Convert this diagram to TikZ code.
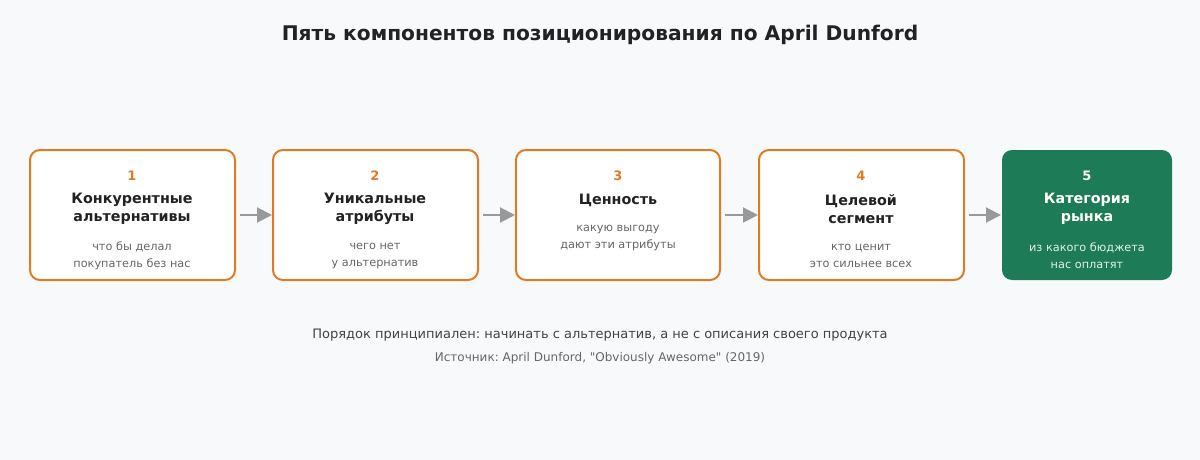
\documentclass[tikz,border=0pt]{standalone}
\usepackage{fontspec}
\setmainfont[Ligatures=TeXOff]{DejaVu Sans}
\usetikzlibrary{arrows.meta}
\frenchspacing
\definecolor{bg}{HTML}{F8F9FB}
\definecolor{orng}{HTML}{E07B24}
\definecolor{grn}{HTML}{1E7B58}
\definecolor{ink}{HTML}{222222}
\definecolor{sub}{HTML}{666666}
\definecolor{arr}{HTML}{999999}
\tikzset{
  card/.style={draw=orng, line width=2pt, fill=white, rounded corners=10pt},
  gcard/.style={fill=grn, rounded corners=10pt},
  num/.style={font=\bfseries\fontsize{13}{15}\selectfont, text=orng},
  head/.style={font=\bfseries\fontsize{14.3}{18}\selectfont, text=ink, align=center},
  note/.style={font=\fontsize{11.3}{17}\selectfont, text=sub, align=center},
  link/.style={draw=arr, line width=2pt, -{Triangle[length=15pt,width=15pt]}},
}
\begin{document}
\begin{tikzpicture}[x=1pt,y=-1pt]
\fill[bg] (0,0) rectangle (1200,460);
\useasboundingbox (0,0) rectangle (1200,460);
\node[font=\bfseries\fontsize{20.2}{24}\selectfont, text=ink] (title) at (600,35) {Пять компонентов позиционирования по April Dunford};

\path[card] (30,150) rectangle (235,280);
\coordinate (b1w) at (30,215); \coordinate (b1e) at (235,215);
\path[card] (273,150) rectangle (478,280);
\coordinate (b2w) at (273,215); \coordinate (b2e) at (478,215);
\path[card] (516,150) rectangle (720,280);
\coordinate (b3w) at (516,215); \coordinate (b3e) at (720,215);
\path[card] (759,150) rectangle (964,280);
\coordinate (b4w) at (759,215); \coordinate (b4e) at (964,215);
\path[gcard] (1002,150) rectangle (1172,280);
\coordinate (b5w) at (1002,215);

\node[num] (n1) at (132,176) {1};
\node[head] (h1) at (132,209) {Конкурентные\\альтернативы};
\node[note] (s1) at (132,256) {что бы делал\\покупатель без нас};

\node[num] (n2) at (375,176) {2};
\node[head] (h2) at (375,209) {Уникальные\\атрибуты};
\node[note] (s2) at (375,256) {чего нет\\у альтернатив};

\node[num] (n3) at (618,176) {3};
\node[head] (h3) at (618,200) {Ценность};
\node[note] (s3) at (618,238) {какую выгоду\\дают эти атрибуты};

\node[num] (n4) at (861,176) {4};
\node[head] (h4) at (861,209) {Целевой\\сегмент};
\node[note] (s4) at (861,256) {кто ценит\\это сильнее всех};

\node[num, text=white] (n5) at (1087,176) {5};
\node[head, text=white] (h5) at (1087,209) {Категория\\рынка};
\node[note, text=white!88!grn] (s5) at (1087,256) {из какого бюджета\\нас оплатят};

\draw[link] ([xshift=5pt]b1e) -- ([xshift=-1pt]b2w);
\draw[link] ([xshift=5pt]b2e) -- ([xshift=-1pt]b3w);
\draw[link] ([xshift=5pt]b3e) -- ([xshift=-1pt]b4w);
\draw[link] ([xshift=5pt]b4e) -- ([xshift=-1pt]b5w);

\node[font=\fontsize{13}{15}\selectfont, text=ink!85] (foot) at (600,335) {Порядок принципиален: начинать с альтернатив, а не с описания своего продукта};
\node[font=\fontsize{12}{14}\selectfont, text=sub] (src) at (600,358) {Источник: April Dunford, "Obviously Awesome" (2019)};
\end{tikzpicture}
\end{document}
